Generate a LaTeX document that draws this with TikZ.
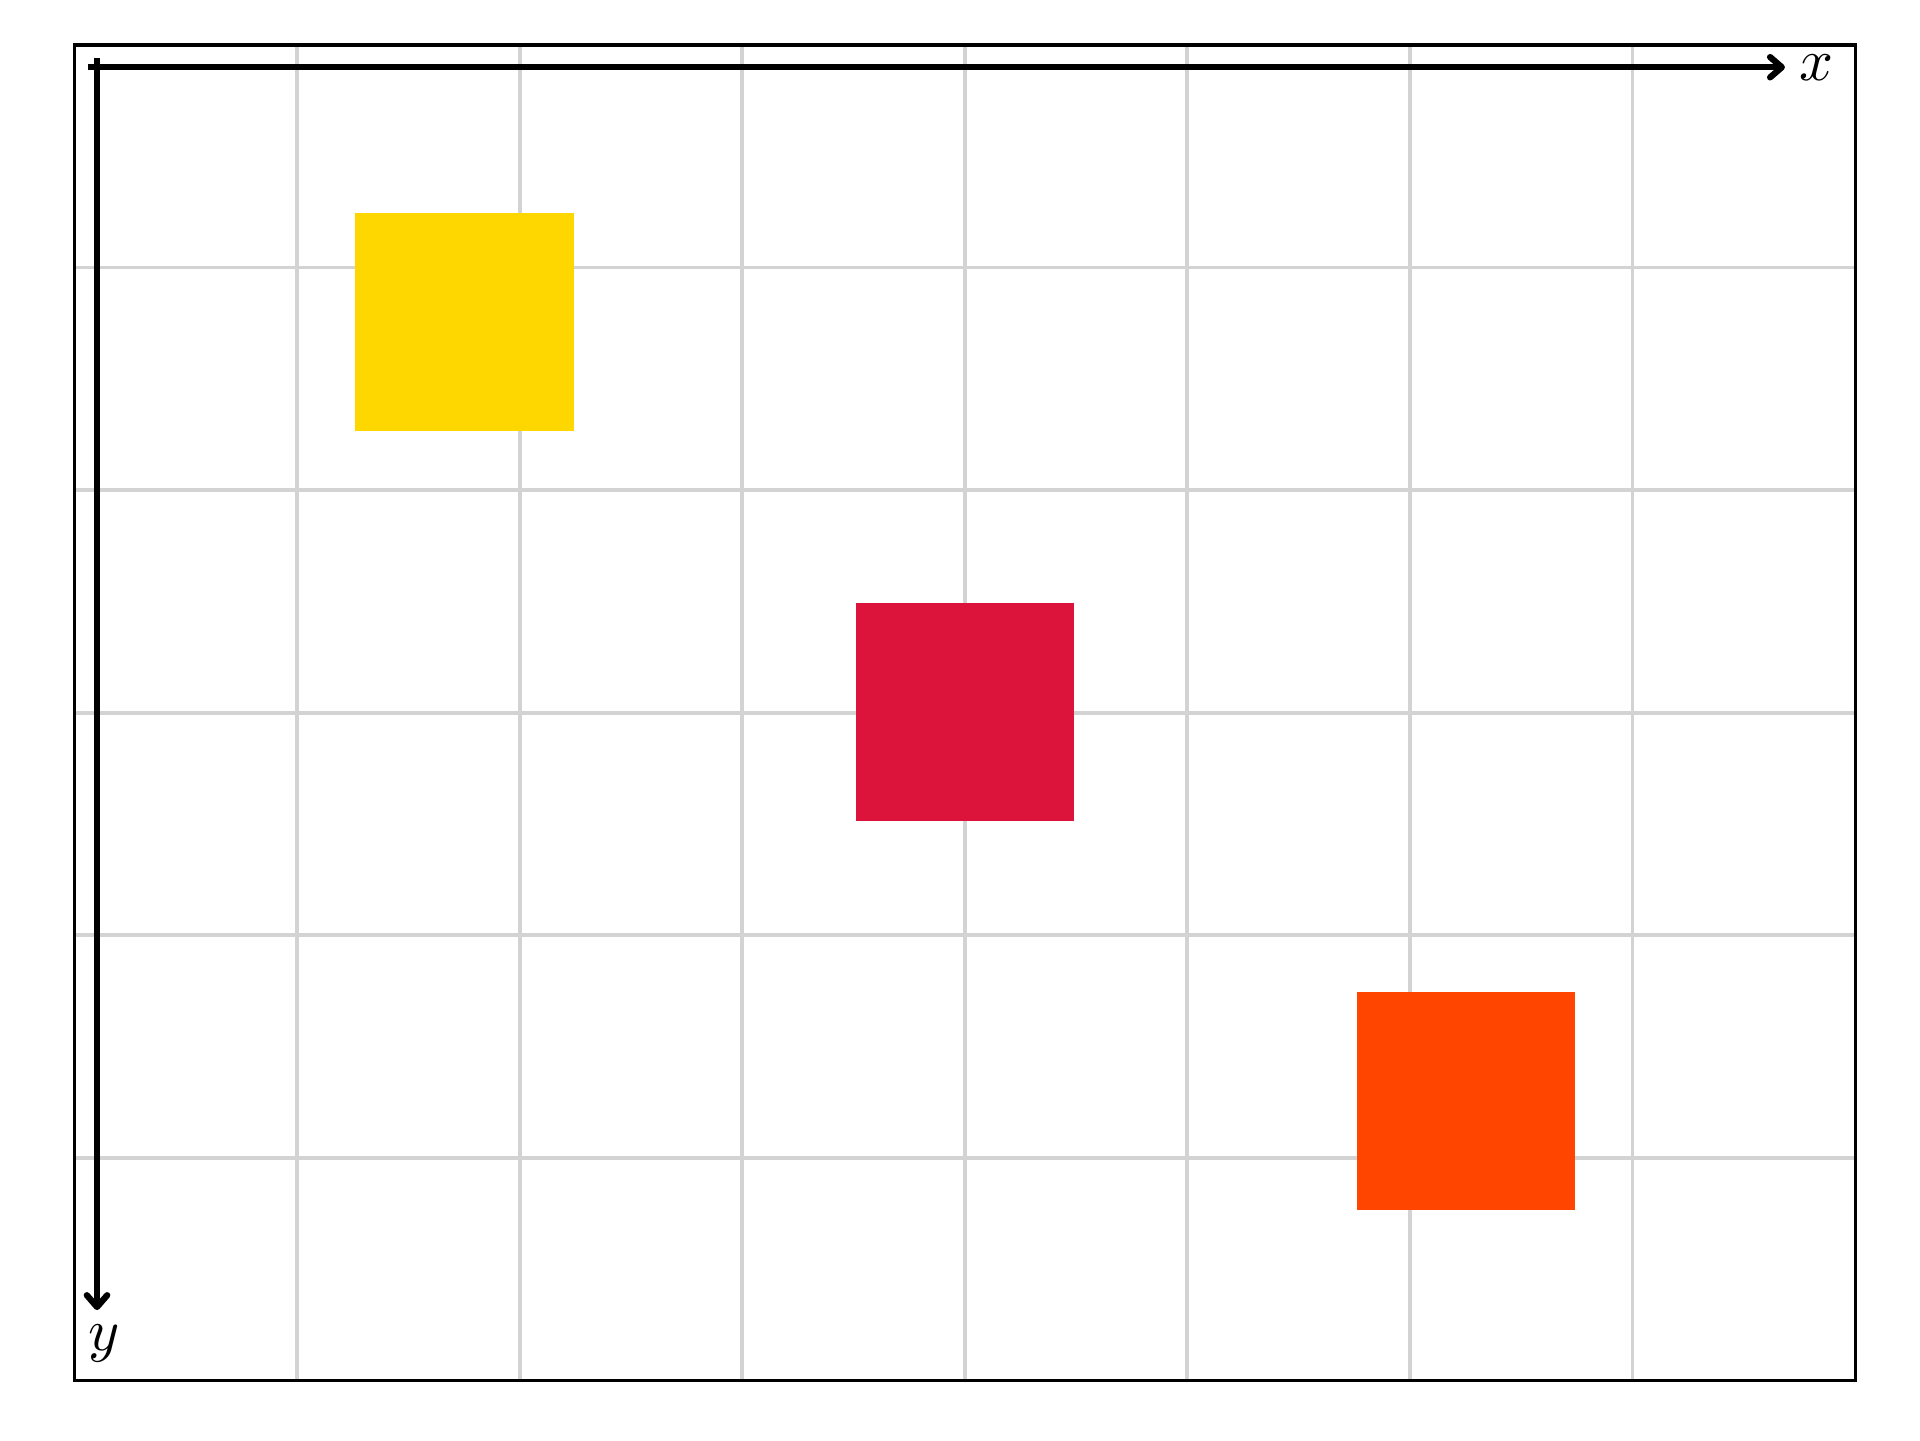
\documentclass[tikz,border=0pt]{standalone}
\usetikzlibrary{arrows.meta}
\definecolor{gold}{RGB}{255,215,0}
\definecolor{crimson}{RGB}{220,20,60}
\definecolor{orangered}{RGB}{255,69,0}
\definecolor{gridgray}{RGB}{211,211,211}
\tikzset{
  gridline/.style={draw=gridgray, line width=0.5pt},
  framebox/.style={draw=black, line width=0.4pt},
  axisline/.style={draw=black, thick, -{Straight Barb[round, length=1.5pt, width=2.6pt]}},
  sqbox/.style={draw=none, inner sep=0pt, minimum size=0.982cm, shape=rectangle},
  axlabel/.style={inner sep=0.8pt, scale=0.76}
}
\begin{document}
\begin{tikzpicture}
\useasboundingbox (-0.336,0.202) rectangle (8.292,-6.270);
% grid
\foreach \i in {1,...,7} {\draw[gridline] (\i,0) -- (\i,-6);}
\foreach \j in {1,...,5} {\draw[gridline] (0,-\j) -- (8,-\j);}
% squares
\node[sqbox, fill=gold] (yel) at (1.751,-1.245) {};
\node[sqbox, fill=crimson] (red) at (4.001,-2.997) {};
\node[sqbox, fill=orangered] (ora) at (6.2525,-4.746) {};
% frame
\draw[framebox] (0,0) rectangle (8,-6);
% axes
\coordinate (xs) at (0.06,-0.1);
\coordinate (xe) at (7.685,-0.1);
\coordinate (ys) at (0.1,-0.06);
\coordinate (ye) at (0.1,-5.685);
\draw[axisline] (xs) -- (xe);
\draw[axisline] (ys) -- (ye);
\node[axlabel, anchor=west] (xl) at ([xshift=0.04cm]xe) {$x$};
\node[axlabel, anchor=north] (yl) at ([xshift=0.03cm,yshift=-0.04cm]ye) {$y$};
\end{tikzpicture}
\end{document}
